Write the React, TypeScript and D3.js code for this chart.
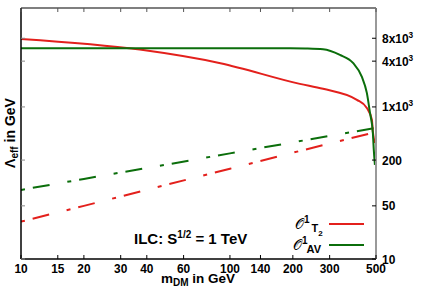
import { useRef, useEffect } from 'react'
import * as d3 from 'd3'

// x ticks (m_DM in GeV)
const massTicks = [10, 15, 20, 30, 40, 60, 100, 140, 200, 300, 500]
// y ticks (Lambda_eff in GeV), label = base + superscript
const lambdaTicks = [10, 50, 200, 1000, 4000, 8000]
const lambdaTickBase = ['10', '50', '200', '1x10', '4x10', '8x10']
const lambdaTickExp = ['', '', '', '3', '3', '3']

// solid curves
const massT2 = [10, 37, 90, 216, 279, 405, 452, 478, 483, 494]
const lambdaT2 = [7850, 5680, 3760, 2010, 1730, 1240, 970, 674, 469, 336]
const massAV = [10, 100, 194, 229, 279, 336, 388, 428, 452, 468, 483, 488, 494]
const lambdaAV = [5920, 5920, 5920, 5880, 5740, 4830, 3790, 2480, 1530, 834, 455, 272, 173]

// dash-dot curves
const massDD = [10, 20, 50, 100, 200, 500]
const lambdaAVdd = [81, 113, 175, 245, 342, 530]
const lambdaT2dd = [31, 50, 95, 154, 250, 469]

const RED = '#e3201c'
const GREEN = '#0b6e0b'
const FONT = '"Liberation Sans", Arial, sans-serif'

const App = () => {
  const svgRef = useRef<SVGSVGElement>(null)
  const width = 421
  const height = 295

  useEffect(() => {
    if (!svgRef.current) return
    const svg = d3.select(svgRef.current)
    svg.selectAll('*').remove()

    const left = 21, right = 376, top = 8, bottom = 259

    const x = d3.scaleLog().domain([10, 500]).range([left, right])
    const y = d3.scaleLog().domain([10, 20000]).range([bottom, top])

    svg.append('rect').attr('width', width).attr('height', height).attr('fill', '#fff')

    svg.append('defs').append('clipPath').attr('id', 'plot-clip')
      .append('rect')
      .attr('x', left).attr('y', top)
      .attr('width', right - left).attr('height', bottom - top)

    const plot = svg.append('g').attr('clip-path', 'url(#plot-clip)')

    const line = d3.line<[number, number]>()
      .x(d => x(d[0]))
      .y(d => y(d[1]))

    const smooth = d3.line<[number, number]>()
      .x(d => x(d[0]))
      .y(d => y(d[1]))
      .curve(d3.curveMonotoneX)

    // dash-dot lines
    plot.append('path')
      .datum(massDD.map((m, i) => [m, lambdaT2dd[i]] as [number, number]))
      .attr('fill', 'none')
      .attr('stroke', RED)
      .attr('stroke-width', 2)
      .attr('stroke-dasharray', '4,8,17,18')
      .attr('d', line)

    plot.append('path')
      .datum(massDD.map((m, i) => [m, lambdaAVdd[i]] as [number, number]))
      .attr('fill', 'none')
      .attr('stroke', GREEN)
      .attr('stroke-width', 2)
      .attr('stroke-dasharray', '4,8,17,18')
      .attr('d', line)

    // solid lines
    plot.append('path')
      .datum(massT2.map((m, i) => [m, lambdaT2[i]] as [number, number]))
      .attr('fill', 'none')
      .attr('stroke', RED)
      .attr('stroke-width', 2)
      .attr('d', smooth)

    plot.append('path')
      .datum(massAV.map((m, i) => [m, lambdaAV[i]] as [number, number]))
      .attr('fill', 'none')
      .attr('stroke', GREEN)
      .attr('stroke-width', 2)
      .attr('d', smooth)

    // frame
    const frame = svg.append('g')
    frame.append('line').attr('x1', left).attr('x2', right).attr('y1', top).attr('y2', top)
      .attr('stroke', '#000').attr('stroke-width', 1.2)
    frame.append('line').attr('x1', left).attr('x2', right).attr('y1', bottom).attr('y2', bottom)
      .attr('stroke', '#000').attr('stroke-width', 1.5)
    frame.append('line').attr('x1', left).attr('x2', left).attr('y1', top).attr('y2', bottom)
      .attr('stroke', '#000').attr('stroke-width', 1.5)
    frame.append('line').attr('x1', right).attr('x2', right).attr('y1', top).attr('y2', bottom)
      .attr('stroke', '#999').attr('stroke-width', 2)

    // x ticks (bottom + top, inward) and labels
    massTicks.forEach(m => {
      const px = x(m)
      frame.append('line').attr('x1', px).attr('x2', px).attr('y1', bottom).attr('y2', bottom - 4)
        .attr('stroke', '#000').attr('stroke-width', 1)
      frame.append('line').attr('x1', px).attr('x2', px).attr('y1', top).attr('y2', top + 4)
        .attr('stroke', '#555').attr('stroke-width', 1)
      svg.append('text')
        .attr('transform', `translate(${px},273) scale(0.88,1)`)
        .attr('text-anchor', 'middle')
        .style('font-family', FONT).style('font-weight', 'bold').style('font-size', '13.5px')
        .text(String(m))
    })

    // y ticks (right labelled, left mirror)
    lambdaTicks.forEach((v, i) => {
      const py = y(v)
      frame.append('line').attr('x1', right).attr('x2', right - 4).attr('y1', py).attr('y2', py)
        .attr('stroke', '#000').attr('stroke-width', 1)
      frame.append('line').attr('x1', left).attr('x2', left + 4).attr('y1', py).attr('y2', py)
        .attr('stroke', '#888').attr('stroke-width', 1)
      const t = svg.append('text')
        .attr('transform', `translate(382,${py + 4.5}) scale(0.92,1)`)
        .style('font-family', FONT).style('font-weight', 'bold').style('font-size', '13px')
      t.append('tspan').text(lambdaTickBase[i])
      if (lambdaTickExp[i]) {
        t.append('tspan').attr('dy', -5).style('font-size', '9px').text(lambdaTickExp[i])
      }
    })

    // x axis title
    const xt = svg.append('text')
      .attr('x', 198).attr('y', 283)
      .attr('text-anchor', 'middle')
      .style('font-family', FONT).style('font-weight', 'bold').style('font-size', '13.5px')
    xt.append('tspan').text('m')
    xt.append('tspan').attr('dy', 3).style('font-size', '10px').text('DM')
    xt.append('tspan').attr('dy', -3).text(' in GeV')

    // y axis title
    const yt = svg.append('text')
      .attr('transform', 'translate(15,133) rotate(-90)')
      .attr('text-anchor', 'middle')
      .style('font-family', FONT).style('font-weight', 'bold').style('font-size', '14px')
    yt.append('tspan').text('Λ')
    yt.append('tspan').attr('dy', 3).style('font-size', '10px').text('eff')
    yt.append('tspan').attr('dy', -3).text(' in GeV')

    // annotation
    const an = svg.append('text')
      .attr('x', 134).attr('y', 244)
      .style('font-family', FONT).style('font-weight', 'bold').style('font-size', '15px')
    an.append('tspan').text('ILC: S')
    an.append('tspan').attr('dy', -6).style('font-size', '10px').text('1/2')
    an.append('tspan').attr('dy', 6).text(' = 1 TeV')

    // legend
    const legend = svg.append('g')
    const rows = [
      { sub: 'T', subsub: '2', color: RED, y: 224, ox: 295 },
      { sub: 'AV', subsub: '', color: GREEN, y: 245, ox: 293 },
    ]
    rows.forEach(r => {
      legend.append('line')
        .attr('x1', 329).attr('x2', 364).attr('y1', r.y).attr('y2', r.y)
        .attr('stroke', r.color).attr('stroke-width', 2)
      const lt = legend.append('text')
        .attr('x', r.ox).attr('y', r.y + 5)
        .style('font-family', FONT).style('font-size', '14px')
      lt.append('tspan').style('font-family', '"DejaVu Serif", serif').text('𝒪')
      lt.append('tspan').attr('dy', -6).style('font-weight', 'bold').style('font-size', '10px').text('1')
      lt.append('tspan').attr('dy', 9).attr('dx', r.subsub ? 2 : -1).style('font-weight', 'bold').style('font-size', '11px').text(r.sub)
      if (r.subsub) {
        lt.append('tspan').attr('dy', 4).style('font-weight', 'bold').style('font-size', '8px').text(r.subsub)
      }
    })
  }, [])

  return (
    <svg
      ref={svgRef}
      width={width}
      height={height}
      style={{ position: 'fixed', left: 0, top: 0, display: 'block' }}
    />
  )
}

export default App
